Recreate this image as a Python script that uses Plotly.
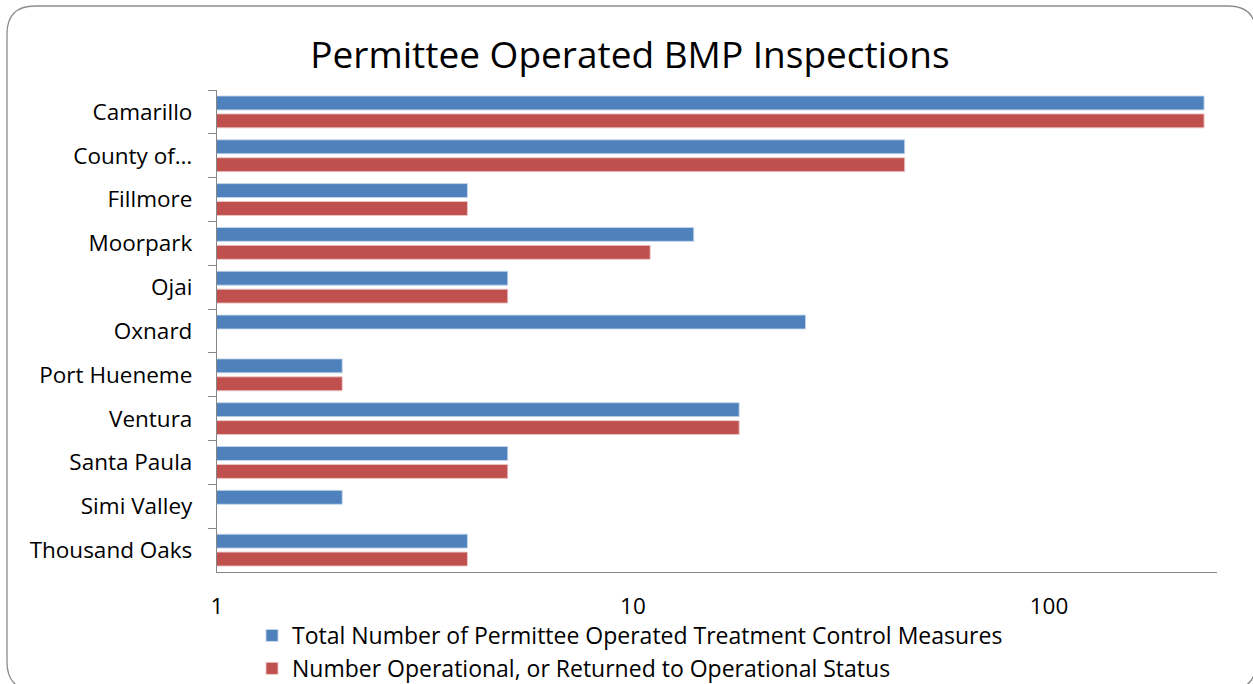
import plotly.graph_objects as go

# Inspection data per permittee
cities = ["Camarillo", "County of…", "Fillmore", "Moorpark", "Ojai", "Oxnard",
          "Port Hueneme", "Ventura", "Santa Paula", "Simi Valley", "Thousand Oaks"]
total_measures = [236, 45, 4, 14, 5, 26, 2, 18, 5, 2, 4]
operational = [236, 45, 4, 11, 5, None, 2, 18, 5, None, 4]

series_names = ["Total Number of Permittee Operated Treatment Control Measures",
                "Number Operational, or Returned to Operational Status"]
x_tick_vals = [1, 10, 100]
x_tick_text = ["1", "10", "100"]

W, H = 1253, 684
L, R, T, B = 217, 1217, 90, 572   # plot area in pixels

def px(x):
    return (x - L) / (R - L)

def py(y):
    return (B - y) / (B - T)

FONT = "Open Sans, Calibri, Carlito, sans-serif"
BLUE = "#4F81BD"
RED = "#C0504D"
GRAY = "#868686"

fig = go.Figure()
fig.add_trace(go.Bar(
    y=cities, x=total_measures, orientation="h", name=series_names[0],
    marker=dict(color=BLUE, line=dict(color="rgba(200,215,235,0.9)", width=1)),
))
fig.add_trace(go.Bar(
    y=cities, x=operational, orientation="h", name=series_names[1],
    marker=dict(color=RED, line=dict(color="rgba(235,200,200,0.9)", width=1)),
))

# rounded outer frame of the chart
x0, y0, x1, y1, r = 7, 6, 1256, 690, 28
path = (
    f"M {px(x0 + r)} {py(y0)} L {px(x1 - r)} {py(y0)} "
    f"Q {px(x1)} {py(y0)} {px(x1)} {py(y0 + r)} "
    f"L {px(x1)} {py(y1 - r)} Q {px(x1)} {py(y1)} {px(x1 - r)} {py(y1)} "
    f"L {px(x0 + r)} {py(y1)} Q {px(x0)} {py(y1)} {px(x0)} {py(y1 - r)} "
    f"L {px(x0)} {py(y0 + r)} Q {px(x0)} {py(y0)} {px(x0 + r)} {py(y0)} Z"
)

fig.update_layout(
    width=W, height=H,
    margin=dict(l=L, r=W - R, t=T, b=H - B, autoexpand=False),
    paper_bgcolor="white", plot_bgcolor="white",
    font=dict(family=FONT, color="black", size=22.5),
    title=dict(text="Permittee Operated BMP Inspections", x=630 / W, xanchor="center",
               y=1 - 55 / H, yanchor="middle", font=dict(size=37, family=FONT)),
    barmode="group", bargap=0.182, bargroupgap=0.222,
    showlegend=True,
    legend=dict(x=px(252), y=py(614), xanchor="left", yanchor="top",
                orientation="v", font=dict(size=23, family=FONT),
                itemwidth=30, tracegroupgap=0, bgcolor="rgba(0,0,0,0)"),
    shapes=[dict(type="path", path=path, xref="paper", yref="paper",
                 line=dict(color="#8c8c8c", width=1.3), fillcolor="rgba(0,0,0,0)")],
)

fig.update_xaxes(type="log", range=[0, 2.404], tickvals=x_tick_vals, ticktext=x_tick_text,
                 showgrid=False, zeroline=False, showline=True, linecolor=GRAY, linewidth=1.3,
                 ticks="", ticklabelstandoff=14, tickfont=dict(size=22.5))
fig.update_yaxes(type="category", autorange=False, range=[len(cities) - 0.5, -0.5],
                 showgrid=False, showline=True, linecolor=GRAY, linewidth=1.3,
                 ticks="outside", tickson="boundaries", ticklen=8, tickcolor=GRAY,
                 tickwidth=1.3, ticklabelstandoff=19, tickfont=dict(size=22.5))

fig.write_html("out.html")
